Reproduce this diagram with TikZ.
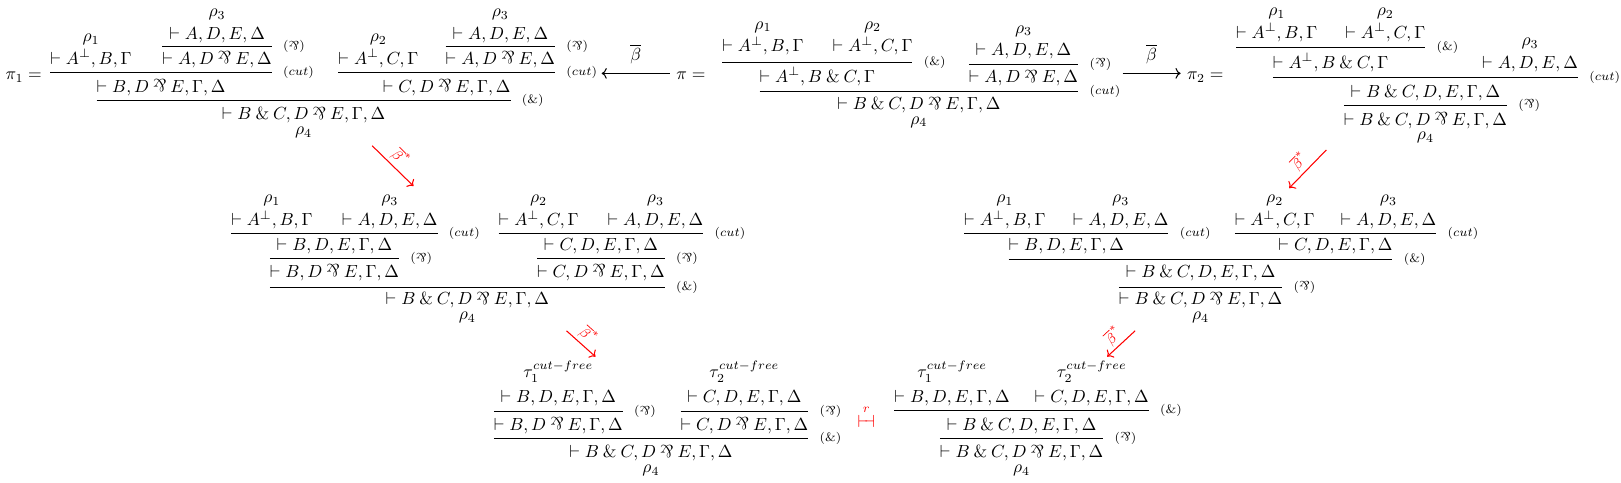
\documentclass[tikz,border=0pt]{standalone}
\usepackage{graphicx}
\usetikzlibrary{fit,arrows.meta}
\newcommand{\prr}{\mathbin{\rotatebox[origin=c]{180}{$\&$}}}
\newcommand{\parlab}{$(\rotatebox[origin=c]{180}{$\&$})$}
\newcommand{\wth}{\mathbin{\&}}
\newcommand{\bb}{\overline{\beta}}
\tikzset{
 seq/.style={inner sep=0pt, outer sep=0pt, anchor=base},
 der/.style={inner sep=0pt, anchor=base},
 fitbox/.style={inner sep=0pt, outer sep=0pt},
 rul/.style={line width=0.45pt},
 lab/.style={anchor=west, inner sep=0pt, xshift=6.3pt, font=\scriptsize},
 redarr/.style={red, semithick, -{To}},
 redlab/.style={red, font=\footnotesize, sloped, above, inner sep=1.5pt},
 blkarr/.style={semithick, -{To}},
}
\newcommand{\leafseq}[4]{\node[seq] (#1) at (#2,#3) {$\vdash #4$};}
\newcommand{\infr}[6]{%
 \node[fitbox, fit=#2] (#1P) {};
 \node[seq] (#1) at (#1P.center |- 0,#4) {$\vdash #5$};
 \node[fitbox, fit=#2(#1)] (#1L) {};
 \draw[rul] (#1L.west |- 0,#3) -- (#1L.east |- 0,#3) node[lab] {#6};}
\newcommand{\drv}[3]{\node[der] (#1) at ([yshift=12.9pt]#2.base) {$#3$};}
\newcommand{\drvt}[3]{\node[der] (#1) at ([yshift=14pt]#2.base) {$#3$};}
\newcommand{\drvb}[3]{\node[der] (#1) at ([yshift=-8.3pt]#2.base) {$#3$};}
\begin{document}
\begin{tikzpicture}[x=0.59pt, y=-0.59pt]
\useasboundingbox (0,0) rectangle (1568,467);
% ---------- pi_1 ----------
\node[anchor=base west, inner sep=0pt] (pione) at (5,77) {$\pi_1 =$};
\leafseq{s1}{88}{62}{A^{\perp}, B, \Gamma}
\leafseq{s2}{210}{38}{A, D, E, \Delta}
\infr{s3}{(s2)}{45}{62}{A, D \prr E, \Delta}{\parlab}
\infr{s4}{(s1)(s3)}{70}{89}{B, D \prr E, \Gamma, \Delta}{$(cut)$}
\leafseq{s5}{366}{62}{A^{\perp}, C, \Gamma}
\leafseq{s6}{484}{38}{A, D, E, \Delta}
\infr{s7}{(s6)}{45}{62}{A, D \prr E, \Delta}{\parlab}
\infr{s8}{(s5)(s7)}{70}{89}{C, D \prr E, \Gamma, \Delta}{$(cut)$}
\infr{s9}{(s4)(s8)}{97}{116}{B \wth C, D \prr E, \Gamma, \Delta}{(\&)}
\drv{s1r}{s1}{\rho_1}
\drv{s2r}{s2}{\rho_3}
\drv{s5r}{s5}{\rho_2}
\drv{s6r}{s6}{\rho_3}
\drvb{s9r}{s9}{\rho_4}
% ---------- arrow to pi_1 ----------
\coordinate (la1) at (648,71);
\coordinate (la2) at (582,71);
\draw[blkarr] (la1) -- node[above=2pt] (lab1) {$\bb$} (la2);
% ---------- pi ----------
\node[anchor=base west, inner sep=0pt] (pimain) at (654,77) {$\pi =$};
\leafseq{p1}{738}{50}{A^{\perp}, B, \Gamma}
\leafseq{p2}{844}{50}{A^{\perp}, C, \Gamma}
\infr{p3}{(p1)(p2)}{60}{79.5}{A^{\perp}, B \wth C, \Gamma}{(\&)}
\leafseq{p4}{990}{54}{A, D, E, \Delta}
\infr{p5}{(p4)}{62}{79.5}{A, D \prr E, \Delta}{\parlab}
\infr{p6}{(p3)(p5)}{88}{106}{B \wth C, D \prr E, \Gamma, \Delta}{$(cut)$}
\drv{p1r}{p1}{\rho_1}
\drv{p2r}{p2}{\rho_2}
\drv{p4r}{p4}{\rho_3}
\drvb{p6r}{p6}{\rho_4}
% ---------- arrow to pi_2 ----------
\coordinate (ra1) at (1086,71);
\coordinate (ra2) at (1142,71);
\draw[blkarr] (ra1) -- node[above=2pt] (lab2) {$\bb$} (ra2);
% ---------- pi_2 ----------
\node[anchor=base west, inner sep=0pt] (pitwo) at (1148,77) {$\pi_2 =$};
\leafseq{q1}{1235}{37}{A^{\perp}, B, \Gamma}
\leafseq{q2}{1340}{37}{A^{\perp}, C, \Gamma}
\infr{q3}{(q1)(q2)}{46}{66}{A^{\perp}, B \wth C, \Gamma}{(\&)}
\leafseq{q4}{1480}{66}{A, D, E, \Delta}
\infr{q5}{(q3)(q4)}{75}{94}{B \wth C, D, E, \Gamma, \Delta}{$(cut)$}
\infr{q6}{(q5)}{102}{121}{B \wth C, D \prr E, \Gamma, \Delta}{\parlab}
\drv{q1r}{q1}{\rho_1}
\drv{q2r}{q2}{\rho_2}
\drv{q4r}{q4}{\rho_3}
\drvb{q6r}{q6}{\rho_4}
% ---------- middle left ----------
\leafseq{a1}{263}{218}{A^{\perp}, B, \Gamma}
\leafseq{a2}{377}{218}{A, D, E, \Delta}
\infr{a3}{(a1)(a2)}{226}{242}{B, D, E, \Gamma, \Delta}{$(cut)$}
\infr{a4}{(a3)}{250}{268}{B, D \prr E, \Gamma, \Delta}{\parlab}
\leafseq{b1}{521}{218}{A^{\perp}, C, \Gamma}
\leafseq{b2}{634}{218}{A, D, E, \Delta}
\infr{b3}{(b1)(b2)}{226}{242}{C, D, E, \Gamma, \Delta}{$(cut)$}
\infr{b4}{(b3)}{250}{268}{C, D \prr E, \Gamma, \Delta}{\parlab}
\infr{a5}{(a4)(b4)}{278}{295}{B \wth C, D \prr E, \Gamma, \Delta}{(\&)}
\drv{a1r}{a1}{\rho_1}
\drv{a2r}{a2}{\rho_3}
\drv{b1r}{b1}{\rho_2}
\drv{b2r}{b2}{\rho_3}
\drvb{a5r}{a5}{\rho_4}
% ---------- middle right ----------
\leafseq{c1}{972}{218}{A^{\perp}, B, \Gamma}
\leafseq{c2}{1084}{218}{A, D, E, \Delta}
\infr{c3}{(c1)(c2)}{226}{242}{B, D, E, \Gamma, \Delta}{$(cut)$}
\leafseq{d1}{1233}{218}{A^{\perp}, C, \Gamma}
\leafseq{d2}{1343}{218}{A, D, E, \Delta}
\infr{d3}{(d1)(d2)}{226}{242}{C, D, E, \Gamma, \Delta}{$(cut)$}
\infr{e1}{(c3)(d3)}{251}{268}{B \wth C, D, E, \Gamma, \Delta}{(\&)}
\infr{e2}{(e1)}{278}{295}{B \wth C, D \prr E, \Gamma, \Delta}{\parlab}
\drv{c1r}{c1}{\rho_1}
\drv{c2r}{c2}{\rho_3}
\drv{d1r}{d1}{\rho_2}
\drv{d2r}{d2}{\rho_3}
\drvb{e2r}{e2}{\rho_4}
% ---------- bottom left ----------
\leafseq{f1}{540}{389}{B, D, E, \Gamma, \Delta}
\infr{f2}{(f1)}{398}{416}{B, D \prr E, \Gamma, \Delta}{\parlab}
\leafseq{g1}{720}{389}{C, D, E, \Gamma, \Delta}
\infr{g2}{(g1)}{398}{416}{C, D \prr E, \Gamma, \Delta}{\parlab}
\infr{f3}{(f2)(g2)}{424}{443}{B \wth C, D \prr E, \Gamma, \Delta}{(\&)}
\drvt{f1r}{f1}{\tau_1^{cut-free}}
\drvt{g1r}{g1}{\tau_2^{cut-free}}
\drvb{f3r}{f3}{\rho_4}
% ---------- relation ----------
\node[red, anchor=base, inner sep=0pt] (rel) at (838,414) {$\stackrel{r}{\vdash\mkern-4mu\dashv}$};
% ---------- bottom right ----------
\leafseq{h1}{921}{389}{B, D, E, \Gamma, \Delta}
\leafseq{h2}{1056}{389}{C, D, E, \Gamma, \Delta}
\infr{h3}{(h1)(h2)}{397}{416}{B \wth C, D, E, \Gamma, \Delta}{(\&)}
\infr{h4}{(h3)}{424}{443}{B \wth C, D \prr E, \Gamma, \Delta}{\parlab}
\drvt{h1r}{h1}{\tau_1^{cut-free}}
\drvt{h2r}{h2}{\tau_2^{cut-free}}
\drvb{h4r}{h4}{\rho_4}
% ---------- red arrows ----------
\coordinate (r1s) at (360,141);
\coordinate (r1e) at (400,180);
\coordinate (r2s) at (1283,145);
\coordinate (r2e) at (1247,182);
\coordinate (r3s) at (548,320);
\coordinate (r3e) at (576,345);
\coordinate (r4s) at (1098,320);
\coordinate (r4e) at (1071,345);
\draw[redarr] (r1s) -- node[redlab] (rl1) {$\bb^{*}$} (r1e);
\draw[redarr] (r2s) -- node[redlab] (rl2) {$\bb^{*}$} (r2e);
\draw[redarr] (r3s) -- node[redlab] (rl3) {$\bb^{*}$} (r3e);
\draw[redarr] (r4s) -- node[redlab] (rl4) {$\bb^{*}$} (r4e);
\end{tikzpicture}
\end{document}
